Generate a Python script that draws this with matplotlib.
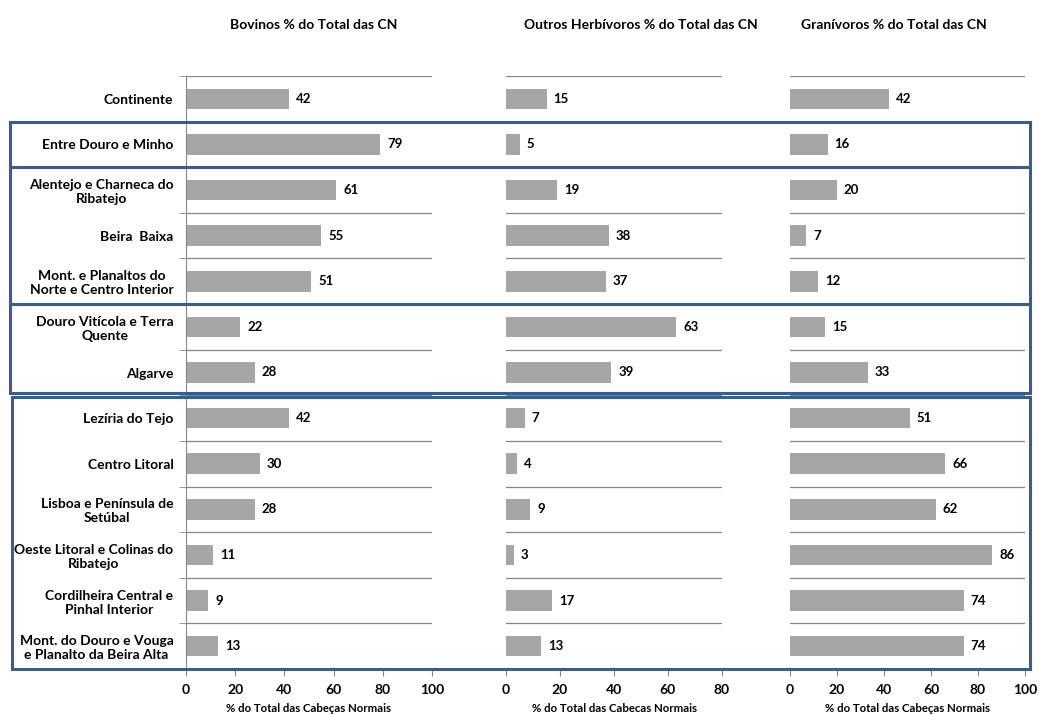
import numpy as np
import matplotlib
matplotlib.use("Agg")
import matplotlib.pyplot as plt
from matplotlib.patches import Rectangle
from matplotlib.transforms import blended_transform_factory

plt.rcParams['font.family'] = ['Lato', 'DejaVu Sans']
plt.rcParams['font.weight'] = 'bold'

regions = ["Continente",
           "Entre Douro e Minho",
           "Alentejo e Charneca do\nRibatejo",
           "Beira  Baixa",
           "Mont. e Planaltos do\nNorte e Centro Interior",
           "Douro Vitícola e Terra\nQuente",
           "Algarve",
           "Lezíria do Tejo",
           "Centro Litoral",
           "Lisboa e Península de\nSetúbal",
           "Oeste Litoral e Colinas do\nRibatejo",
           "Cordilheira Central e\nPinhal Interior",
           "Mont. do Douro e Vouga\ne Planalto da Beira Alta"]

bovinos = [42, 79, 61, 55, 51, 22, 28, 42, 30, 28, 11, 9, 13]
outros_herb = [15, 5, 19, 38, 37, 63, 39, 7, 4, 9, 3, 17, 13]
granivoros = [42, 16, 20, 7, 12, 15, 33, 51, 66, 62, 86, 74, 74]

titles = ["Bovinos % do Total das CN",
          "Outros Herbívoros % do Total das CN",
          "Granívoros % do Total das CN"]
xlabels = ["% do Total das Cabeças Normais",
           "% do Total das Cabecas Normais",
           "% do Total das Cabeças Normais"]
xmaxes = [100, 80, 100]
title_x = [314, 641, 894]

# row groups framed by the blue boxes (first row, last row)
groups = [(1, 1), (2, 4), (5, 6), (7, 12)]

W, H = 1039, 715
fig = plt.figure(figsize=(W / 100, H / 100), dpi=100)

bottom = 1 - 669 / H
height = (669 - 76) / H
panel_px = [(186, 432), (506, 722), (790, 1025)]

bar_col = "#A6A6A6"
grid_col = "#878787"
box_col = "#3B5C8C"

y = np.arange(len(regions))
axes = []
for k, vals in enumerate([bovinos, outros_herb, granivoros]):
    x0, x1 = panel_px[k]
    ax = fig.add_axes([x0 / W, bottom, (x1 - x0) / W, height])
    bars = ax.barh(y, vals, height=0.45, color=bar_col, zorder=2)
    ax.bar_label(bars, padding=5, fontsize=9.5, fontweight='bold')
    ax.set_xlim(0, xmaxes[k])
    ax.set_ylim(len(regions) - 0.5, -0.5)
    ax.set_xticks(np.arange(0, xmaxes[k] + 1, 20))
    ax.tick_params(axis='x', length=5, color=grid_col, labelsize=10, pad=6)
    ax.set_yticks(np.arange(-0.5, len(regions), 1), minor=True)
    ax.grid(axis='y', which='minor', color=grid_col, lw=0.9, zorder=0)
    ax.set_xlabel(xlabels[k], fontsize=8.2, fontweight='bold', labelpad=5)
    for s in ['top', 'right']:
        ax.spines[s].set_visible(False)
    ax.spines['bottom'].set_color(grid_col)
    if k == 0:
        ax.set_yticks(y)
        ax.set_yticklabels(regions, fontsize=10, multialignment='center')
        ax.tick_params(axis='y', which='major', length=0, pad=9)
        ax.tick_params(axis='y', which='minor', length=5, color=grid_col)
        ax.spines['left'].set_color(grid_col)
    else:
        ax.set_yticks([])
        ax.tick_params(axis='y', which='minor', length=0)
        ax.spines['left'].set_visible(False)
    fig.text(title_x[k] / W, 1 - 25 / H, titles[k], ha='center', va='center',
             fontsize=10, fontweight='bold')
    axes.append(ax)

# blue frames around groups of regions
tr = blended_transform_factory(fig.transFigure, axes[0].transData)
for i, (a, b) in enumerate(groups):
    left = 10 / W if i < 3 else 12 / W
    right = 1030 / W
    top = a - 0.5
    bot = b + 0.5
    if i == 2:
        bot -= 0.05
    if i == 3:
        top += 0.03
    rect = Rectangle((left, top), right - left, bot - top, transform=tr,
                     fill=False, edgecolor=box_col, lw=2.2, clip_on=False, zorder=5)
    fig.add_artist(rect)

fig.savefig("out.png", dpi=100)
